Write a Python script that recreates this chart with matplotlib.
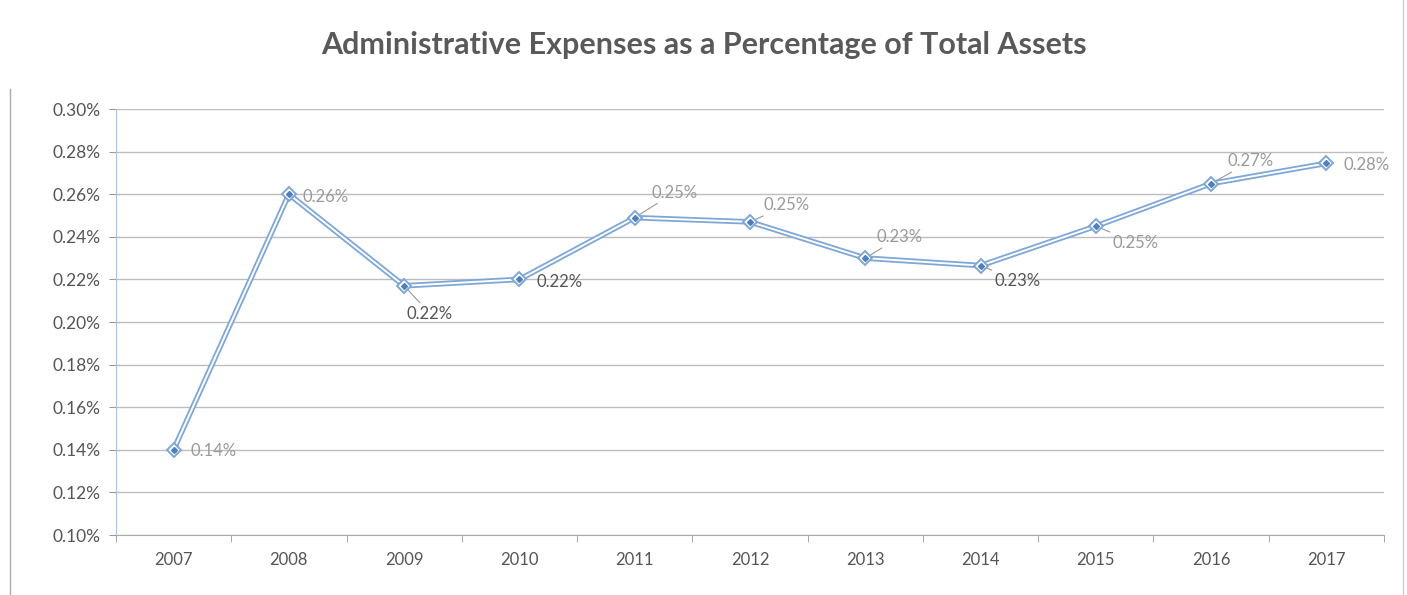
import numpy as np
import matplotlib.pyplot as plt
from matplotlib.lines import Line2D

plt.rcParams['font.family'] = ['Lato', 'DejaVu Sans']

years = ['2007', '2008', '2009', '2010', '2011', '2012', '2013', '2014', '2015', '2016', '2017']
ratio = [0.140, 0.260, 0.217, 0.220, 0.249, 0.247, 0.230, 0.2265, 0.245, 0.265, 0.2745]
labels = ['0.14%', '0.26%', '0.22%', '0.22%', '0.25%', '0.25%', '0.23%', '0.23%', '0.25%', '0.27%', '0.28%']

# label offsets (points) and whether a leader line is drawn
offs = [(12, -1), (10, -2), (2, -20), (12, -2), (12, 18), (10, 12), (8, 15), (10, -11), (12, -12), (12, 16), (12, -1)]
leader = [False, False, True, False, True, True, True, True, True, True, False]
dark = [False, False, True, True, False, False, False, True, False, False, False]

fig = plt.figure(figsize=(14.07, 5.95), dpi=100)
ax = fig.add_axes([0.0824, 0.1008, 0.9013, 0.716])

x = np.arange(len(years))
blue = '#7ea7d8'
ax.plot(x, ratio, color=blue, lw=4.0, zorder=3, solid_joinstyle='round')
ax.plot(x, ratio, color='white', lw=1.4, zorder=4, solid_joinstyle='round')
ax.plot(x, ratio, ls='none', marker='D', ms=7, mfc='white', mec=blue, mew=1.4, zorder=5)
ax.plot(x, ratio, ls='none', marker='D', ms=3, color='#4f7fbd', zorder=6)

for i in range(len(x)):
    c = '#555555' if dark[i] else '#9a9a9a'
    ap = dict(arrowstyle='-', color='#999999', lw=0.8, shrinkA=0, shrinkB=4) if leader[i] else None
    ax.annotate(labels[i], (x[i], ratio[i]), xytext=offs[i], textcoords='offset points',
                fontsize=12, color=c, va='center', ha='left', arrowprops=ap)

ax.set_xlim(-0.5, len(years) - 0.5)
ax.set_ylim(0.10, 0.30)
ax.set_yticks(np.arange(0.10, 0.301, 0.02))
ax.set_yticklabels(['%.2f%%' % v for v in np.arange(0.10, 0.301, 0.02)], fontsize=12.5, color='#555555')
ax.set_xticks(x)
ax.set_xticklabels(years, fontsize=12, color='#555555')
ax.set_xticks(np.arange(-0.5, len(years), 1), minor=True)
ax.tick_params(axis='x', which='major', length=0, pad=12)
ax.tick_params(axis='x', which='minor', length=5, color='#999999')
ax.tick_params(axis='y', length=5, color='#999999', pad=6)
ax.grid(axis='y', color='#bdbdbd', lw=1.0)
ax.set_axisbelow(True)
for s in ['top', 'right']:
    ax.spines[s].set_visible(False)
ax.spines['left'].set_color('#a9c3e3')
ax.spines['bottom'].set_color('#aaaaaa')

fig.text(0.5, 0.925, 'Administrative Expenses as a Percentage of Total Assets',
         ha='center', va='center', fontsize=22, fontweight='bold', color='#595959')

# chart frame edges
fig.add_artist(Line2D([0.007, 0.007], [0.0, 0.85], color='#aaaaaa', lw=1))
fig.add_artist(Line2D([0.997, 0.997], [0.0, 1.0], color='#cccccc', lw=1))

fig.savefig('out.png', dpi=100)
